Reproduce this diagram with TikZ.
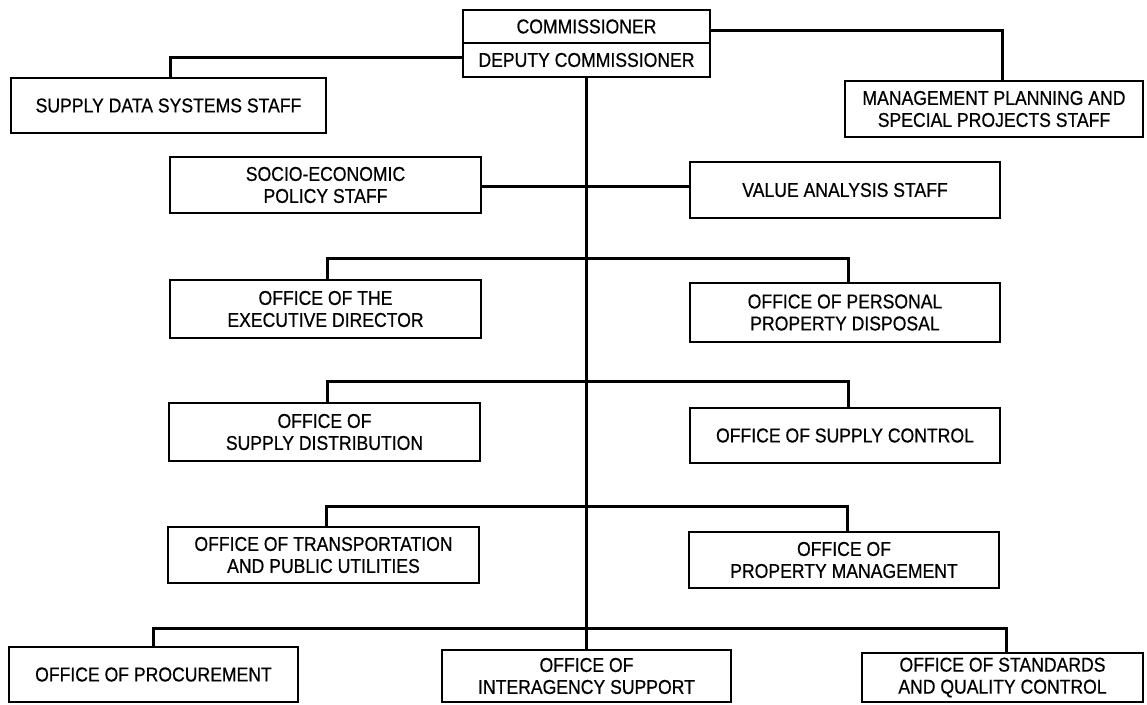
\documentclass[tikz,border=0pt]{standalone}
\usepackage{fontspec}
\setmainfont[FakeStretch=0.88,FakeBold=0.6]{Liberation Sans}
\begin{document}
\begin{tikzpicture}[x=1pt,y=-1pt,
  box/.style={draw,line width=2.6pt,inner sep=0pt,align=center,font=\fontsize{20}{22}\selectfont},
  conn/.style={line width=3pt}]
\useasboundingbox[fill=white] (0,0) rectangle (1147,704);
% commissioner
\node[box,minimum width=247pt,minimum height=33pt] (commA) at (586.5,26.5) {COMMISSIONER};
\node[box,minimum width=247pt,minimum height=34pt] (commB) at (586.5,60) {DEPUTY COMMISSIONER};
% staff
\node[box,minimum width=315pt,minimum height=55pt] (sds) at (168.5,105.5) {SUPPLY DATA SYSTEMS STAFF};
\node[box,minimum width=298pt,minimum height=56pt] (mp) at (994,109) {MANAGEMENT PLANNING AND\\SPECIAL PROJECTS STAFF};
\node[box,minimum width=311pt,minimum height=56pt] (socio) at (325.5,185) {SOCIO-ECONOMIC\\POLICY STAFF};
\node[box,minimum width=310pt,minimum height=56pt] (value) at (845,190) {VALUE ANALYSIS STAFF};
% offices
\node[box,minimum width=311pt,minimum height=58pt] (exec) at (325.5,309) {OFFICE OF THE\\EXECUTIVE DIRECTOR};
\node[box,minimum width=310pt,minimum height=59pt] (ppd) at (845,312.5) {OFFICE OF PERSONAL\\PROPERTY DISPOSAL};
\node[box,minimum width=311pt,minimum height=58pt] (sdist) at (324.5,432) {OFFICE OF\\SUPPLY DISTRIBUTION};
\node[box,minimum width=310pt,minimum height=55pt] (sctl) at (845,435.5) {OFFICE OF SUPPLY CONTROL};
\node[box,minimum width=311pt,minimum height=56pt] (trans) at (323.5,555) {OFFICE OF TRANSPORTATION\\AND PUBLIC UTILITIES};
\node[box,minimum width=310pt,minimum height=56pt] (pm) at (844,560) {OFFICE OF\\PROPERTY MANAGEMENT};
\node[box,minimum width=289pt,minimum height=55pt] (proc) at (153.5,674.5) {OFFICE OF PROCUREMENT};
\node[box,minimum width=289pt,minimum height=52pt] (inter) at (586.5,676) {OFFICE OF\\INTERAGENCY SUPPORT};
\node[box,minimum width=281pt,minimum height=49pt] (std) at (1002.5,677.5) {OFFICE OF STANDARDS\\AND QUALITY CONTROL};
% branch points on the main line
\coordinate (b1) at (587,258);
\coordinate (b2) at (587,381);
\coordinate (b3) at (587,506);
\coordinate (b4) at (587,628);
% connectors
\draw[conn] (commB.south) -- (inter.north);
\draw[conn] ([yshift=3pt]commB.west) -| ([xshift=1.5pt]sds.north);
\draw[conn] ([yshift=-4pt]commA.east) -| ([xshift=8pt]mp.north);
\draw[conn] ([yshift=-1pt]socio.east) -- ([yshift=-1pt]socio.east -| value.west);
\draw[conn] ([xshift=1.5pt]exec.north) |- (b1) -| ([xshift=3pt]ppd.north);
\draw[conn] ([xshift=2.5pt]sdist.north) |- (b2) -| ([xshift=3pt]sctl.north);
\draw[conn] ([xshift=2.5pt]trans.north) |- (b3) -| ([xshift=3pt]pm.north);
\draw[conn] (proc.north) |- (b4) -| ([xshift=3.5pt]std.north);
\end{tikzpicture}
\end{document}
